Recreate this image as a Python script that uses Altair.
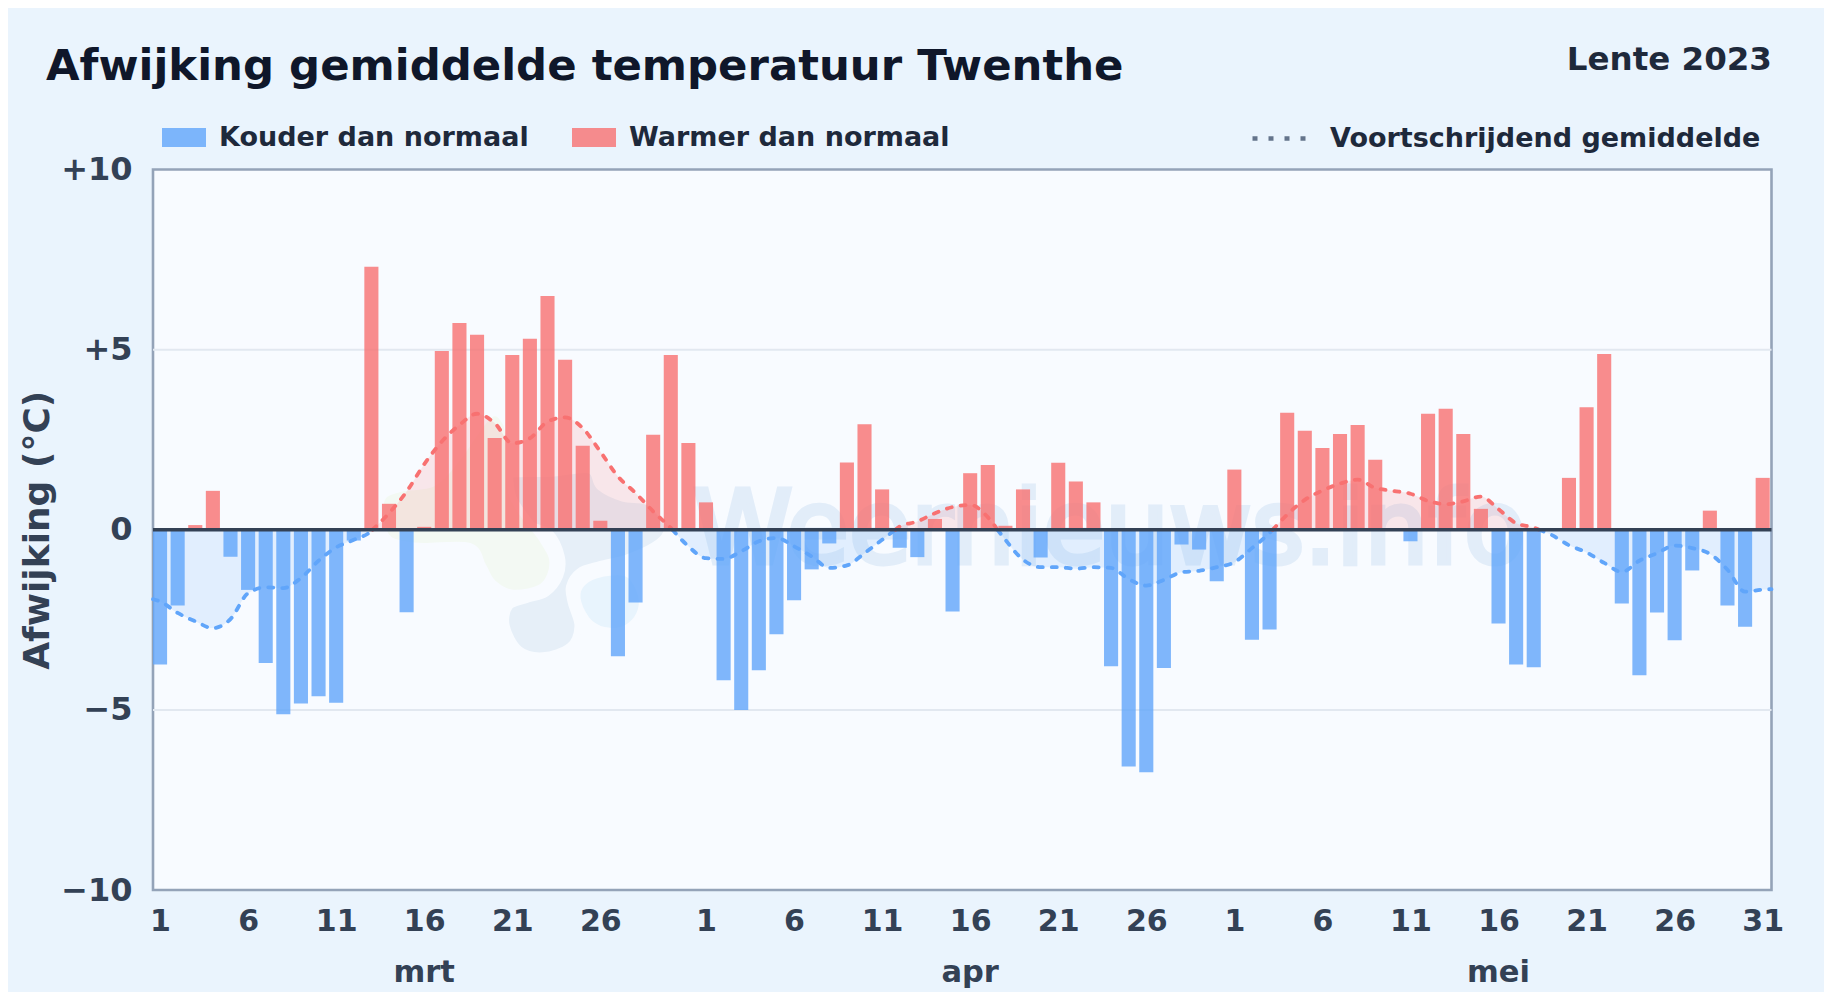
import altair as alt
import pandas as pd

TITLE = "Afwijking gemiddelde temperatuur Twenthe"
SEASON = "Lente 2023"
Y_TITLE = "Afwijking (°C)"
COLD = "Kouder dan normaal"
WARM = "Warmer dan normaal"
AVG = "Voortschrijdend gemiddelde"
WATERMARK = "Weernieuws.info"
FONT = "DejaVu Sans"

mar = [-3.74, -2.1, 0.13, 1.08, -0.75, -1.67, -3.7, -5.12, -4.82, -4.62, -4.8, -0.3, 7.3, 0.72, -2.29, 0.08,
       4.96, 5.74, 5.41, 2.55, 4.85, 5.3, 6.49, 4.72, 2.33, 0.25, -3.51, -2.02, 2.64, 4.85, 2.41]
apr = [0.76, -4.18, -5.0, -3.9, -2.9, -1.96, -1.1, -0.38, 1.87, 2.93, 1.12, -0.5, -0.76, 0.3, -2.27,
       1.57, 1.8, 0.11, 1.12, -0.77, 1.86, 1.34, 0.76, -3.79, -6.57, -6.73, -3.84, -0.41, -0.55, -1.43]
may = [1.67, -3.05, -2.77, 3.25, 2.75, 2.27, 2.66, 2.91, 1.94, 0.0, -0.32, 3.22, 3.36, 2.66, 0.58, -2.6,
       -3.74, -3.82, 0.0, 1.44, 3.4, 4.88, -2.05, -4.04, -2.3, -3.07, -1.13, 0.53, -2.1, -2.69, 1.44]
values = mar + apr + may

avg_mar = [-1.99, -2.31, -2.54, -2.73, -2.48, -1.76, -1.6, -1.62, -1.34, -0.86, -0.49, -0.28, -0.03, 0.46, 1.06,
           1.82, 2.45, 2.91, 3.22, 2.96, 2.40, 2.54, 3.0, 3.12, 2.82, 2.17, 1.48, 1.02, 0.51, 0.05, -0.46]
avg_apr = [-0.79, -0.81, -0.6, -0.32, -0.23, -0.46, -0.74, -1.06, -0.99, -0.65, -0.28, 0.09, 0.23, 0.46, 0.63,
           0.69, 0.35, -0.28, -0.83, -1.04, -1.04, -1.08, -1.04, -1.06, -1.37, -1.55, -1.39, -1.18, -1.14, -1.04]
avg_may = [-0.9, -0.51, -0.09, 0.42, 0.83, 1.09, 1.28, 1.39, 1.16, 1.08, 1.0, 0.8, 0.71, 0.79, 0.92, 0.57,
           0.18, 0.06, -0.14, -0.43, -0.63, -0.92, -1.17, -0.86, -0.65, -0.44, -0.51, -0.67, -1.11, -1.72, -1.66]
# the line runs on to both edges of the frame
avg_left_edge = -1.93
avg_right_edge = -1.65
averages = [avg_left_edge] + avg_mar + avg_apr + avg_may + [avg_right_edge]
avg_x = [0.1] + [i + 0.5 for i in range(92)] + [92.0]

month_names = ["mrt", "apr", "mei"]
month_mid = [15.5, 46.5, 76.5]
tick_pos = [0.5, 5.5, 10.5, 15.5, 20.5, 25.5, 31.5, 36.5, 41.5, 46.5, 51.5, 56.5,
            61.5, 66.5, 71.5, 76.5, 81.5, 86.5, 91.5]

blob_main_x = [19.97, 22.81, 24.89, 25.46, 26.78, 28.11, 29.06, 29.25, 28.49, 26.97, 25.46, 24.32, 23.75, 23.85,
               24.23, 23.75, 22.24, 20.91, 20.16, 20.34, 21.29, 22.43, 23.19, 23.28, 22.62, 21.29, 20.34]
blob_main_y = [1.48, 1.57, 1.66, 1.2, 0.88, 0.79, 0.37, -0.09, -0.46, -0.79, -0.97, -1.16, -1.57, -2.03,
               -2.68, -3.24, -3.5, -3.33, -2.68, -2.13, -1.94, -1.76, -1.29, -0.74, -0.09, 0.19, 0.74]
blob_green_x = [13.15, 14.28, 15.99, 17.31, 19.2, 20.15, 20.34, 20.53, 22.24, 22.81, 22.24, 20.53, 19.4, 18.83,
                18.07, 15.23, 13.53, 13.05]
blob_green_y = [0.92, 1.16, 1.29, 1.94, 3.19, 2.96, 2.22, 0.92, -0.28, -0.92, -1.57, -1.76, -1.48, -1.02,
                -0.46, -0.46, -0.28, 0.28]
blob_lobe_x = [24.32, 25.27, 26.97, 27.73, 27.83, 27.16, 26.03, 24.89, 24.23]
blob_lobe_y = [-1.57, -1.25, -1.2, -1.66, -2.22, -2.68, -2.82, -2.59, -2.03]

kind = lambda v: WARM if v >= 0 else COLD

bars = pd.DataFrame({
    "x": [i + 0.1 for i in range(len(values))],
    "x1": [i + 0.9 for i in range(len(values))],
    "v": values,
    "kind": [kind(v) for v in values],
})

# one run per sign of the running mean; each run ends on the zero crossing
rows, seg = [], 0
for i, v in enumerate(averages):
    x = avg_x[i]
    rows.append({"x": x, "v": v, "kind": kind(v), "seg": seg})
    if i + 1 < len(averages) and kind(v) != kind(averages[i + 1]):
        cross = x + (avg_x[i + 1] - x) * v / (v - averages[i + 1])
        rows.append({"x": cross, "v": 0.0, "kind": kind(v), "seg": seg})
        seg += 1
        rows.append({"x": cross, "v": 0.0, "kind": kind(averages[i + 1]), "seg": seg})
line_df = pd.DataFrame(rows)

X_AXIS = alt.Axis(
    values=tick_pos, grid=False, domain=False, ticks=False, title=None, labelFont=FONT, labelFontSize=30,
    labelFontWeight="bold", labelColor="#334155", labelPadding=16, labelFlush=False, labelOverlap=False,
    labelExpr="datum.value < 31 ? floor(datum.value) + 1 : datum.value < 61 ? floor(datum.value) - 30 : floor(datum.value) - 60",
)
Y_AXIS = alt.Axis(
    values=[-10, -5, 0, 5, 10], grid=False, domain=False, ticks=False, title=Y_TITLE, labelFont=FONT,
    labelFontSize=32, labelFontWeight="bold", labelColor="#334155", labelPadding=21, labelOverlap=False,
    labelExpr="datum.value > 0 ? '+' + datum.value : datum.value < 0 ? '−' + abs(datum.value) : '0'",
    titleFont=FONT, titleFontSize=36, titleFontWeight="bold", titleColor="#334155", titleX=-97,
)
COLOR_LEGEND = alt.Legend(
    orient="none", legendX=9, legendY=-54, direction="horizontal", title=None, padding=0,
    symbolType="M-1,-0.432H1V0.432H-1Z", symbolSize=1936, symbolOpacity=0.8, symbolStrokeWidth=0,
    labelFont=FONT, labelFontSize=27, labelFontWeight="bold", labelColor="#1e293b", labelLimit=0,
    labelOffset=13, columnPadding=43,
)
X = alt.Scale(domain=[0.1, 92.0], nice=False, zero=False)
Y = alt.Scale(domain=[-10, 10], nice=False)
COLORS = alt.Scale(domain=[COLD, WARM], range=["#60a5fa", "#f87171"])
xx = alt.X("x:Q", scale=X, axis=X_AXIS)
yy = alt.Y("v:Q", scale=Y, axis=Y_AXIS)
cc = alt.Color("kind:N", scale=COLORS, legend=COLOR_LEGEND)


def blob(xs, ys, fill, halo):
    df = pd.DataFrame({"x": xs, "v": ys, "o": list(range(len(xs)))})
    return alt.Chart(df).mark_line(
        interpolate="cardinal-closed", filled=True, fill=fill, stroke=halo, strokeWidth=7
    ).encode(x=xx, y=yy, order="o:Q")


grid = alt.Chart(pd.DataFrame({"v": [-5, 5]})).mark_rule(color="#e2e8f0", strokeWidth=2).encode(y=yy)

watermark = alt.Chart(pd.DataFrame({"x": [54.4], "v": [-0.92], "t": [WATERMARK]})).mark_text(
    font=FONT, fontWeight="normal", fontSize=101, color="#e2edf9", stroke="#e2edf9", strokeWidth=5,
    align="center", baseline="alphabetic"
).encode(x=xx, y=yy, text="t:N")

area = alt.Chart(line_df).mark_area(interpolate="monotone", opacity=0.15).encode(
    x=xx, y=yy, y2=alt.Y2(datum=0), detail="seg:N", color=cc
)

bar_layer = alt.Chart(bars).mark_rect(opacity=0.8).encode(
    x=xx, x2="x1:Q", y=yy, y2=alt.Y2(datum=0), color=cc
)

line = alt.Chart(line_df).mark_line(
    interpolate="monotone", strokeWidth=3.8, strokeDash=[5, 9], strokeCap="round"
).encode(x=xx, y=yy, detail="seg:N", color=cc)

avg_key = alt.Chart(pd.DataFrame({"x": [0.5], "v": [0.0], "k": [AVG]})).mark_line().encode(
    x=xx, y=yy,
    strokeDash=alt.StrokeDash("k:N", scale=alt.Scale(domain=[AVG], range=[[5, 11]]), legend=alt.Legend(
        orient="none", legendX=1097, legendY=-60.5, direction="horizontal", title=None, padding=0,
        symbolType="stroke", symbolSize=2916, symbolStrokeColor="#64748b", symbolStrokeWidth=4.5,
        labelFont=FONT, labelFontSize=27, labelFontWeight="bold", labelColor="#1e293b", labelLimit=0,
        labelOffset=21,
    )),
)

zero = alt.Chart(pd.DataFrame({"v": [0]})).mark_rule(color="#334155", strokeWidth=3.4).encode(y=yy)

months = alt.Chart(pd.DataFrame({"x": month_mid, "t": month_names})).mark_text(
    font=FONT, fontSize=30.5, fontWeight="bold", color="#334155", align="center", baseline="alphabetic"
).encode(x=xx, y=alt.value(812.5), text="t:N")

season = alt.Chart(pd.DataFrame({"t": [SEASON]})).mark_text(
    font=FONT, fontSize=32.5, fontWeight="bold", color="#1e293b", align="right", baseline="alphabetic"
).encode(x=alt.value(1619), y=alt.value(-100), text="t:N")

heading = alt.Chart(pd.DataFrame({"t": [TITLE]})).mark_text(
    font=FONT, fontSize=43.4, fontWeight="bold", color="#0f172a", align="left", baseline="alphabetic"
).encode(x=alt.value(-107), y=alt.value(-89.5), text="t:N")

chart = alt.layer(
    blob(blob_main_x, blob_main_y, "#e6eff8", "#f8fbff"),
    blob(blob_green_x, blob_green_y, "#f3f9f3", "#f8fbff"),
    blob(blob_lobe_x, blob_lobe_y, "#e8f4fd", "#f8fbff"),
    grid, watermark, area, bar_layer, line, avg_key, zero, months, season, heading,
).properties(
    width=1618.5,
    height=720.5,
    padding={"left": 145, "top": 161.5, "right": 52.5, "bottom": 102},
    autosize=alt.AutoSizeParams(type="none"),
    background="#eaf4fd",
).configure_view(fill="#f8fbff", stroke="#94a3b8", strokeWidth=2.6)

chart.save("out.html", embed_options={"renderer": "svg", "actions": False})
